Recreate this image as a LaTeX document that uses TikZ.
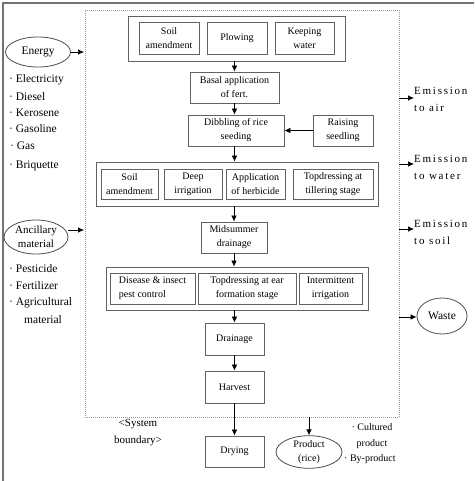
\documentclass[tikz,border=0pt]{standalone}
\usepackage{fontspec}
\setmainfont{Liberation Serif}
\usetikzlibrary{arrows.meta,shapes.geometric}
\begin{document}
\begin{tikzpicture}[x=1pt,y=-1pt,
 bx/.style 2 args={draw=black!62, line width=0.8pt, align=center, font=\fontsize{10}{14}\selectfont, inner sep=1pt, minimum width=#1, minimum height=#2},
 grp/.style 2 args={draw=black!62, line width=0.8pt, inner sep=0pt, minimum width=#1, minimum height=#2},
 ell/.style={ellipse, draw=black!70, line width=0.8pt, inner sep=0pt, align=center},
 arr/.style={-{Latex[length=6pt,width=5.5pt]}, line width=0.7pt},
 lst/.style={anchor=west, font=\fontsize{11.5}{13}\selectfont, inner sep=0pt},
 emis/.style={anchor=west, align=left, inner sep=0pt, font=\fontsize{11}{17}\selectfont\addfontfeature{LetterSpace=16}},
]
\useasboundingbox (0,0) rectangle (474,481);
% outer frame
\draw[black!55, line width=1.5pt] (474,3) -- (3,3) -- (3,481);
% system boundary
\node[draw=black!40, dash pattern=on 1pt off 1pt, line width=0.8pt, inner sep=0pt, minimum width=314, minimum height=407] (sb) at (242,213.5) {};
\node[align=center, font=\fontsize{11}{17}\selectfont, inner sep=0pt] (sbl) at (138,432.5) {<System\\boundary>};

% group 1
\node[grp={217}{45}] (g1) at (236.5,38.5) {};
\node[bx={60}{32}] (soil1) at (169,38) {Soil\\amendment};
\node[bx={60}{32}] (plow) at (237,38) {Plowing};
\node[bx={59}{32}] (keep) at (304.5,38) {Keeping\\water};

\node[bx={89}{31}] (basal) at (234.5,87.5) {Basal application\\of fert.};
\node[bx={96}{31}] (dib) at (236,130.5) {Dibbling of rice\\seeding};
\node[bx={60}{31}] (raise) at (343,130.5) {Raising\\seedling};

% group 2
\node[grp={282}{44}] (g2) at (237,184) {};
\node[bx={57}{30}] (soil2) at (129.5,184) {Soil\\amendment};
\node[bx={58}{30}] (deep) at (193,184) {Deep\\irrigation};
\node[bx={59}{30}] (herb) at (255.5,184) {Application\\of herbicide};
\node[bx={80}{30}] (topt) at (333,184) {Topdressing at\\tillering stage};

\node[bx={66}{31}] (mid) at (234,237.5) {Midsummer\\drainage};

% group 3
\node[grp={262}{43}] (g3) at (237,288.5) {};
\node[bx={85}{31}, align=left] (dis) at (152.5,288.5) {Disease \hfill\& \hfill insect\\pest control};
\node[bx={98}{31}] (tope) at (247,288.5) {Topdressing at ear\\formation stage};
\node[bx={63}{31}] (inter) at (330.5,288.5) {Intermittent\\irrigation};

\node[bx={59}{32}] (drain) at (234.5,339) {Drainage};
\node[bx={59}{32}] (harv) at (234.5,387) {Harvest};
\node[bx={59}{31}] (dry) at (234.5,451.5) {Drying};

% vertical arrows
\draw[arr] (basal.north |- g1.south) -- (basal.north);
\draw[arr] (basal.south) -- (basal.south |- dib.north);
\draw[arr] (basal.south |- dib.south) -- (basal.south |- g2.north);
\draw[arr] (mid.north |- g2.south) -- (mid.north);
\draw[arr] (mid.south) -- (mid.south |- g3.north);
\draw[arr] (drain.north |- g3.south) -- (drain.north);
\draw[arr] (drain.south) -- (harv.north);
\draw[arr] (harv.south) -- (dry.north);
\draw[arr] (raise.west) -- (dib.east);

% inputs
\node[ell, minimum width=65, minimum height=30, font=\fontsize{11.5}{13}\selectfont] (energy) at (38,52) {Energy};
\coordinate (inE) at (84,52);
\draw[arr] (energy.east) -- (inE);
\node[lst] (l1) at (9,80) {· Electricity};
\node[lst] (l2) at (9,97) {· Diesel};
\node[lst] (l3) at (9,113) {· Kerosene};
\node[lst] (l4) at (9,129) {· Gasoline};
\node[lst] (l5) at (10,146) {· Gas};
\node[lst] (l6) at (9,166) {· Briquette};

\node[ell, minimum width=64, minimum height=34, font=\fontsize{11}{14}\selectfont] (anc) at (36,237) {Ancillary\\material};
\coordinate (inA) at (84,230);
\draw[arr] (anc.east |- inA) -- (inA);
\node[lst] (m1) at (9,269) {· Pesticide};
\node[lst] (m2) at (9,286) {· Fertilizer};
\node[lst] (m3) at (9,303) {· Agricultural};
\node[lst] (m4) at (24,320) {material};

% outputs
\node[emis] (eair) at (414,99) {Emission\\to air};
\coordinate (oA) at (399,98);
\draw[arr] (oA) -- (oA -| eair.west);
\node[emis] (ewat) at (414,167) {Emission\\to water};
\coordinate (oW) at (399,164);
\draw[arr] (oW) -- (oW -| ewat.west);
\node[emis] (esoil) at (414,232.5) {Emission\\to soil};
\coordinate (oS) at (399,229);
\draw[arr] (oS) -- (oS -| esoil.west);
\node[ell, minimum width=50, minimum height=36, font=\fontsize{11.5}{13}\selectfont] (waste) at (442,316) {Waste};
\coordinate (oWs) at (399,317);
\draw[arr] (oWs) -- (oWs -| waste.west);

\node[ell, minimum width=66, minimum height=30, font=\fontsize{10}{14}\selectfont] (prod) at (309,452) {Product\\(rice)};
\coordinate (oP) at (prod.north |- sb.south);
\draw[arr] (oP) -- (prod.north);
\node[align=center, inner sep=0pt, font=\fontsize{10}{15.5}\selectfont] (pl1) at (372,436) {· Cultured\\product};
\node[anchor=west, inner sep=0pt, font=\fontsize{10}{13}\selectfont] (pl2) at (344,459) {· By-product};
\end{tikzpicture}
\end{document}
